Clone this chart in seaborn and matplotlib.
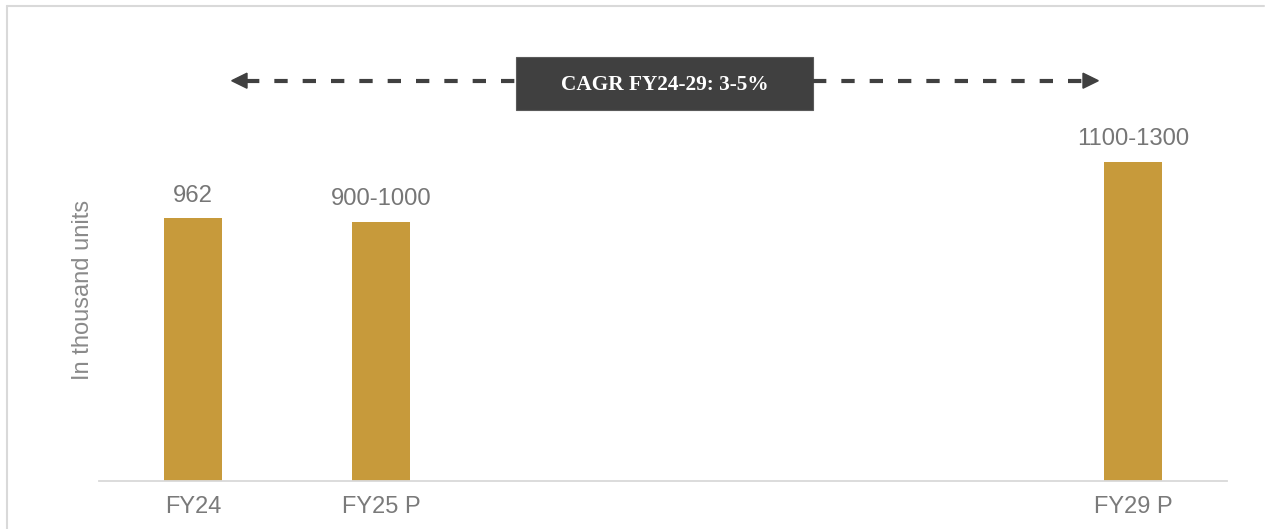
import numpy as np
import pandas as pd
import seaborn as sns
import matplotlib.pyplot as plt
from matplotlib.patches import Rectangle, Polygon
from matplotlib.lines import Line2D

# Data
years = ["FY24", "FY25 P", "FY29 P"]
volumes = [962, 950, 1170]           # thousand units
value_labels = ["962", "900-1000", "1100-1300"]
# Category slots on the x axis (the middle years are left empty)
slots = ["FY24", "FY25 P", " ", "  ", "   ", "FY29 P"]
cagr_text = "CAGR FY24-29: 3-5%"
y_title = "In thousand units"

BAR = "#C79A3B"
GREY_TXT = "#767676"
AXIS_GREY = "#d9d9d9"
DARK = "#404040"

sns.set_theme(style="white")
plt.rcParams["font.family"] = ["Liberation Sans", "DejaVu Sans"]
plt.rcParams["lines.scale_dashes"] = False

W, H = 1265, 529
fig = plt.figure(figsize=(W / 100, H / 100), dpi=100)
fig.patch.set_facecolor("white")

def fx(px):
    return px / W

def fy(py):
    # pixel row measured from the top -> figure fraction from the bottom
    return 1 - py / H

ax_left, ax_right = 99, 1227
ax_bottom, ax_top = 480.5, 40
ax = fig.add_axes([fx(ax_left), fy(ax_bottom), fx(ax_right - ax_left), (ax_bottom - ax_top) / H])

df = pd.DataFrame({"year": years, "volume": volumes})
sns.barplot(data=df, x="year", y="volume", order=slots, color=BAR,
            width=0.312, saturation=1, linewidth=0, ax=ax)

ax.set_xlim(-0.5, len(slots) - 0.5)
ax.set_ylim(0, 1616)
ax.set_xlabel("")
ax.set_ylabel("")
ax.set_yticks([])
for side in ["left", "right", "top"]:
    ax.spines[side].set_visible(False)
ax.spines["bottom"].set_color(AXIS_GREY)
ax.spines["bottom"].set_linewidth(1.3)
ax.tick_params(axis="x", length=0, pad=11, labelsize=17, labelcolor="#7a7a7a")

# Value labels above bars
for yr, v, lab in zip(years, volumes, value_labels):
    ax.annotate(lab, (slots.index(yr), v), xytext=(0, 8), textcoords="offset points",
                ha="center", va="bottom", fontsize=17.2, color=GREY_TXT)

# Axis title
fig.text(fx(83), fy(290), y_title, rotation=90, ha="center", va="center",
         fontsize=17, color="#8a8a8a")

# Growth arrow with CAGR box
arrow_y = 80.7
arrow_col = DARK
for x0, x1 in [(246, 516), (813, 1083)]:
    fig.add_artist(Line2D([fx(x0), fx(x1)], [fy(arrow_y), fy(arrow_y)],
                          color=arrow_col, lw=3, linestyle=(0, (9.6, 10.8)),
                          solid_capstyle="butt", dash_capstyle="butt"))
# arrow heads
fig.add_artist(Polygon([[fx(231.7), fy(arrow_y)], [fx(247), fy(arrow_y - 7.5)],
                        [fx(247), fy(arrow_y + 7.5)]], closed=True,
                       color=arrow_col, transform=fig.transFigure))
fig.add_artist(Polygon([[fx(1098.3), fy(arrow_y)], [fx(1083), fy(arrow_y - 7.5)],
                        [fx(1083), fy(arrow_y + 7.5)]], closed=True,
                       color=arrow_col, transform=fig.transFigure))
fig.add_artist(Rectangle((fx(516), fy(110)), fx(813 - 516), (110 - 57) / H,
                         facecolor=DARK, edgecolor="#5a5a5a", lw=0.8,
                         transform=fig.transFigure))
fig.text(fx(664.5), fy(84.5), cagr_text, ha="center", va="center",
         fontsize=15.3, fontweight="bold", color="white",
         family=["Liberation Serif", "DejaVu Serif"])

# Outer frame (left and top edges)
fig.add_artist(Line2D([fx(7), fx(7)], [0, fy(6)], color=AXIS_GREY, lw=1.5))
fig.add_artist(Line2D([fx(7), fx(1264)], [fy(6), fy(6)], color=AXIS_GREY, lw=1.5))

fig.savefig("out.png", dpi=100)
